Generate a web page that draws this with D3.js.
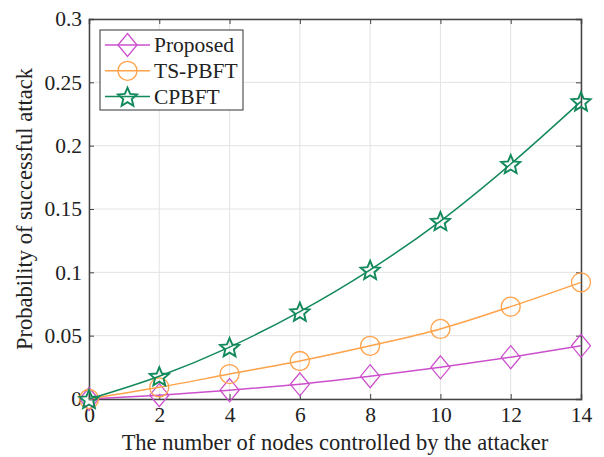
<!DOCTYPE html>
<html><head><meta charset="utf-8">
<script src="https://cdn.jsdelivr.net/npm/d3@7"></script>
<style>body{margin:0;background:#fff}svg{display:block}text{font-family:"Liberation Serif","Times New Roman",serif;fill:#222}</style>
</head><body>
<script>
const nodes = [0, 2, 4, 6, 8, 10, 12, 14];
const proposed = [0, 0.003, 0.007, 0.0116, 0.018, 0.025, 0.033, 0.042];
const tspbft = [0, 0.0092, 0.0197, 0.030, 0.042, 0.0553, 0.0729, 0.0921];
const cpbft = [0, 0.018, 0.041, 0.069, 0.102, 0.1405, 0.1855, 0.235];
const seriesNames = ["Proposed", "TS-PBFT", "CPBFT"];
const xTicks = [0, 2, 4, 6, 8, 10, 12, 14];
const yTicks = [0, 0.05, 0.1, 0.15, 0.2, 0.25, 0.3];

const W = 604, H = 457;
const m = {l: 89, r: 23, t: 19, b: 58};
const svg = d3.select("body").append("svg").attr("width", W).attr("height", H);
const x = d3.scaleLinear().domain([0, 14]).range([m.l, W - m.r]);
const y = d3.scaleLinear().domain([0, 0.3]).range([H - m.b, m.t]);

// grid
svg.append("g").selectAll("line.gx").data(xTicks).join("line")
  .attr("x1", d => x(d)).attr("x2", d => x(d)).attr("y1", y(0)).attr("y2", y(0.3))
  .attr("stroke", "#e3e3e3").attr("stroke-width", 1);
svg.append("g").selectAll("line.gy").data(yTicks).join("line")
  .attr("y1", d => y(d)).attr("y2", d => y(d)).attr("x1", x(0)).attr("x2", x(14))
  .attr("stroke", "#e3e3e3").attr("stroke-width", 1);

// axes
const fmtY = d => d === 0 ? "0" : String(+d.toFixed(2));
const axB = svg.append("g").attr("transform", `translate(0,${y(0)})`)
  .call(d3.axisBottom(x).tickValues(xTicks).tickSize(-5).tickPadding(8).tickFormat(d => d));
const axT = svg.append("g").attr("transform", `translate(0,${y(0.3)})`)
  .call(d3.axisTop(x).tickValues(xTicks).tickSize(-5).tickFormat(""));
const axL = svg.append("g").attr("transform", `translate(${x(0)},0)`)
  .call(d3.axisLeft(y).tickValues(yTicks).tickSize(-5).tickPadding(7).tickFormat(fmtY));
const axR = svg.append("g").attr("transform", `translate(${x(14)},0)`)
  .call(d3.axisRight(y).tickValues(yTicks).tickSize(-5).tickFormat(""));
[axB, axT, axL, axR].forEach(a => {
  a.select(".domain").attr("stroke", "#444").attr("stroke-width", 1.5);
  a.selectAll(".tick line").attr("stroke", "#444").attr("stroke-width", 1);
  a.selectAll("text").style("font-size", "21.5px").style("font-family", '"Liberation Serif",serif').attr("fill", "#222");
});

svg.append("text").attr("x", 335).attr("y", 450).attr("text-anchor", "middle")
  .style("font-size", "22.5px").text("The number of nodes controlled by the attacker");
svg.append("text").attr("transform", `translate(32,${(y(0)+y(0.3))/2}) rotate(-90)`).attr("text-anchor", "middle")
  .style("font-size", "22.5px").text("Probability of successful attack");

const colors = ["#cc4fcc", "#ffa24a", "#12895a"];
const data = [proposed, tspbft, cpbft];
const line = d3.line().x((d, i) => x(nodes[i])).y(d => y(d)).curve(d3.curveMonotoneX);

function starPath(r) {
  const ri = r * 0.45; let p = [];
  for (let k = 0; k < 10; k++) {
    const a = -Math.PI / 2 + k * Math.PI / 5;
    const rr = k % 2 === 0 ? r : ri;
    p.push([rr * Math.cos(a), rr * Math.sin(a)]);
  }
  return "M" + p.map(q => q.join(",")).join("L") + "Z";
}
const markers = [
  "M0,-11.5L9.5,0L0,11.5L-9.5,0Z",
  d3.arc()({innerRadius: 0, outerRadius: 9.5, startAngle: 0, endAngle: 2 * Math.PI}),
  starPath(10)
];
const mw = [1.3, 1.3, 1.9];
function drawMarker(g, k, cx, cy) {
  g.append("path").attr("d", markers[k]).attr("transform", `translate(${cx},${cy + (k === 2 ? 1 : 0)})`)
    .attr("fill", "none").attr("stroke", colors[k]).attr("stroke-width", mw[k]).attr("stroke-linejoin", "miter");
}
data.forEach((s, k) => {
  const g = svg.append("g");
  g.append("path").attr("d", line(s)).attr("fill", "none").attr("stroke", colors[k]).attr("stroke-width", 1.5);
  s.forEach((v, i) => drawMarker(g, k, x(nodes[i]), y(v)));
});

// legend
const lg = svg.append("g");
lg.append("rect").attr("x", 100).attr("y", 30).attr("width", 143).attr("height", 80)
  .attr("fill", "#fff").attr("stroke", "#333").attr("stroke-width", 1);
seriesNames.forEach((n, k) => {
  const ly = 45 + k * 25.8;
  lg.append("line").attr("x1", 105).attr("x2", 150).attr("y1", ly).attr("y2", ly)
    .attr("stroke", colors[k]).attr("stroke-width", 1.5);
  drawMarker(lg, k, 127.5, ly);
  lg.append("text").attr("x", 154).attr("y", ly + 7).style("font-size", "21.5px").text(n);
});
</script>
</body></html>
